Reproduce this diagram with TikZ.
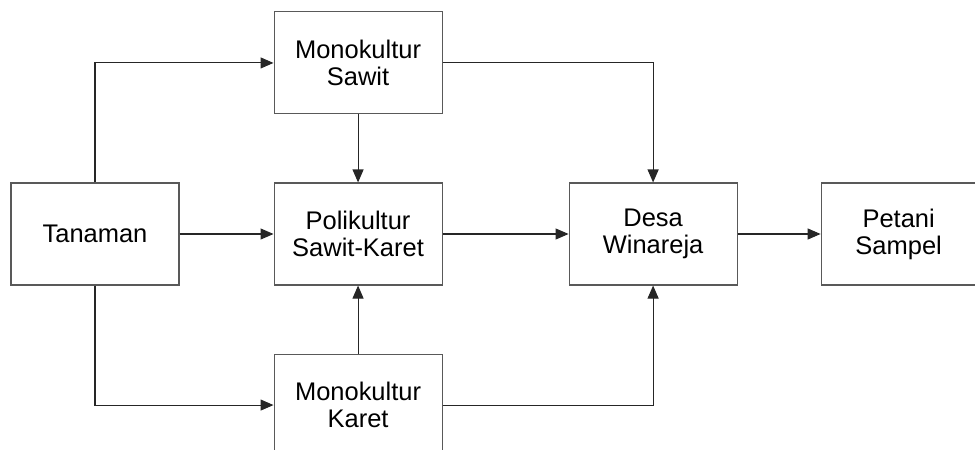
\documentclass[tikz,border=0pt]{standalone}
\usepackage{fontspec}
\setmainfont{Liberation Sans}
\usetikzlibrary{positioning, arrows.meta}
\tikzstyle{box} = [rectangle, minimum width=3.36cm, minimum height=2.04cm, inner sep=0pt, text centered, align=center, draw=black!65, line width=0.6pt]
\tikzstyle{arrow} = [-{Triangle[length=2.6mm, width=2.2mm]}, line width=0.6pt, draw=black!85]

\begin{document}
\begin{tikzpicture}[font=\fontsize{14.5}{15.4}\selectfont]

		% page size
		\clip (-1.9, 4.68) rectangle (17.6, -4.32);

		% boxes
		\node (tanaman)[box]{Tanaman};
		\node (poli)[box, right=1.88cm of tanaman]{Polikultur \\ Sawit-Karet};
		\node (sawit)[box, above=1.36cm of poli]{Monokultur \\ Sawit};
		\node (karet)[box, below=1.36cm of poli]{Monokultur \\ Karet};
		\node (desa)[box, right=2.52cm of poli]{Desa \\ Winareja};
		\node (petani)[box, minimum width=3.1cm, right=1.66cm of desa]{Petani \\ Sampel};

		% lines and arrows
		\draw[arrow](tanaman.north) |- (sawit.west);
		\draw[arrow](tanaman.south) |- (karet.west);
		\draw[arrow](tanaman) -- (poli);
		\draw[arrow](sawit) -- (poli);
		\draw[arrow](karet) -- (poli);
		\draw[arrow](poli) -- (desa);
		\draw[arrow](desa) -- (petani);
		\draw[arrow](sawit.east) -| (desa.north);
		\draw[arrow](karet.east) -| (desa.south);

	\end{tikzpicture}
\end{document}
